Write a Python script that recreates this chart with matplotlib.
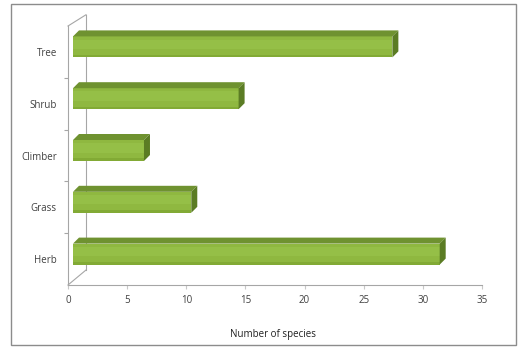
import matplotlib
matplotlib.use("Agg")
import matplotlib.pyplot as plt
from matplotlib.patches import Polygon, Rectangle

categories = ["Herb", "Grass", "Climber", "Shrub", "Tree"]
values = [31, 10, 6, 14, 27]
xticks = [0, 5, 10, 15, 20, 25, 30, 35]
xlabel = "Number of species"

plt.rcParams['font.family'] = ['Open Sans', 'DejaVu Sans']

W, H = 519, 347
fig = plt.figure(figsize=(W / 100, H / 100), dpi=100)
fig.patch.set_facecolor("white")

# plot area (front plane) in pixels
x0, x1 = 68, 482
y_top, y_bot = 26, 285
ax = fig.add_axes([x0 / W, (H - y_bot) / H, (x1 - x0) / W, (y_bot - y_top) / H])
ax.set_xlim(0, 35)
ax.set_ylim(-0.5, len(categories) - 0.5)
ax.patch.set_alpha(0)

# pixel -> data conversions using the axes scale
px_x = 35 / (x1 - x0)
px_y = len(categories) / (y_bot - y_top)

# bar geometry (pixels)
off_x, off_y = 5, 5      # bar front plane shift (depth)
dep_x, dep_y = 6, 6      # bar depth
bar_h = 21 * px_y

front_c = "#8fb840"
top_c = "#6f9230"
side_c = "#5b7c24"

for i, (cat, v) in enumerate(zip(categories, values)):
    bx = off_x * px_x
    by = i + off_y * px_y
    ox, oy = dep_x * px_x, dep_y * px_y
    # front face
    ax.add_patch(Rectangle((bx, by - bar_h / 2), v, bar_h, facecolor=front_c,
                           edgecolor="none", zorder=3))
    # subtle lighter band and darker lower edge
    ax.add_patch(Rectangle((bx, by - bar_h * 0.1), v, bar_h * 0.45, facecolor="#9cc64e",
                           edgecolor="none", alpha=0.5, zorder=3))
    ax.add_patch(Rectangle((bx, by - bar_h / 2), v, bar_h * 0.12, facecolor="#7aa22f",
                           edgecolor="none", alpha=0.6, zorder=3))
    # top face
    ax.add_patch(Polygon([(bx, by + bar_h / 2), (bx + v, by + bar_h / 2),
                          (bx + v + ox, by + bar_h / 2 + oy), (bx + ox, by + bar_h / 2 + oy)],
                         closed=True, facecolor=top_c, edgecolor="none", zorder=3))
    # side face
    ax.add_patch(Polygon([(bx + v, by - bar_h / 2), (bx + v + ox, by - bar_h / 2 + oy),
                          (bx + v + ox, by + bar_h / 2 + oy), (bx + v, by + bar_h / 2)],
                         closed=True, facecolor=side_c, edgecolor="none", zorder=3))

# axes framing (3D walls)
wall_dx, wall_dy = 18 * px_x, 15 * px_y
gc = "#a6a6a6"
ax.plot([wall_dx, wall_dx], [-0.5 + wall_dy, len(categories) - 0.5 + wall_dy * 0.75],
        color=gc, lw=0.8, clip_on=False, zorder=1)
ax.plot([0, wall_dx], [-0.5, -0.5 + wall_dy], color=gc, lw=0.8, clip_on=False, zorder=1)
ax.plot([0, wall_dx], [len(categories) - 0.5, len(categories) - 0.5 + wall_dy * 0.75],
        color=gc, lw=0.8, clip_on=False, zorder=1)

for s in ["top", "right"]:
    ax.spines[s].set_visible(False)
for s in ["left", "bottom"]:
    ax.spines[s].set_color(gc)
    ax.spines[s].set_linewidth(0.8)

ax.set_xticks(xticks)
ax.set_xticklabels([str(t) for t in xticks])
ax.set_yticks(range(len(categories)))
ax.set_yticklabels(categories)
ax.set_yticks([i + 0.5 for i in range(len(categories) - 1)], minor=True)
ax.tick_params(axis="y", which="major", length=0, pad=8, labelsize=7, labelcolor="#404040")
ax.tick_params(axis="y", which="minor", length=3, color=gc, width=0.8)
ax.tick_params(axis="x", which="major", length=3, color="#c8c8c8", width=0.8, pad=4,
               labelsize=7, labelcolor="#404040")

fig.text(273 / W, 1 - 334 / H, xlabel, ha="center", va="center", fontsize=7,
         color="#202020")

# outer border
fig.add_artist(Rectangle((11 / W, (H - 345) / H), (516 - 11) / W, (345 - 4) / H,
                         transform=fig.transFigure, facecolor="none",
                         edgecolor="#8c8c8c", lw=1.0))

fig.savefig("out.png", dpi=100, facecolor="white")
